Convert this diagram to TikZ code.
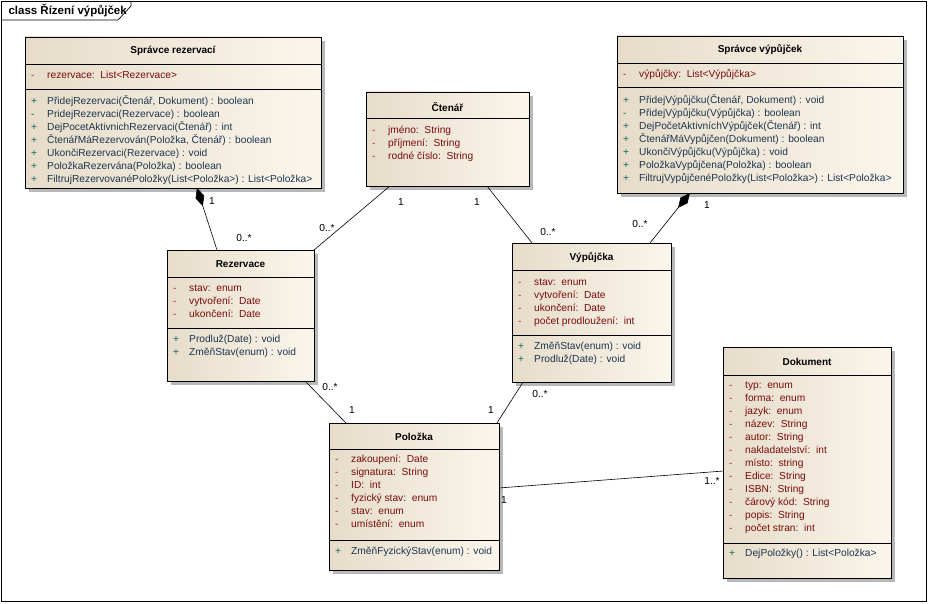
\documentclass[tikz,border=0pt]{standalone}
\usepackage{fontspec}
\setmainfont{Liberation Sans}
\usepackage{array}
\usetikzlibrary{arrows.meta,calc,shadows}
\definecolor{boxdark}{HTML}{E6DCC9}
\definecolor{boxlight}{HTML}{FBF6EC}
\definecolor{attmark}{HTML}{C8281E}
\definecolor{atttext}{HTML}{7A0C0C}
\definecolor{opmark}{HTML}{0E6A5E}
\definecolor{optext}{HTML}{1E3650}
\newcolumntype{A}{@{}>{\color{attmark}}w{l}{16pt}@{}>{\color{atttext}}l@{}}
\newcolumntype{O}{@{}>{\color{opmark}}w{l}{16pt}@{}>{\color{optext}}l@{}}
\tikzset{
  every node/.style={font=\fontsize{10.2}{13}\selectfont},
  classbox/.style={draw=black,line width=0.7pt,left color=boxdark,right color=boxlight,
    anchor=north west,inner sep=0pt,outer sep=0pt,
    drop shadow={shadow xshift=4pt,shadow yshift=-4pt,fill=black!28,opacity=1}},
  classname/.style={font=\fontsize{10}{13}\selectfont\bfseries},
  members/.style={anchor=north west,inner sep=0pt},
  mult/.style={inner sep=0pt},
  assoc/.style={line width=0.6pt}
}
\begin{document}
\begin{tikzpicture}[x=1pt,y=-1pt]
    \useasboundingbox (0,0) rectangle (928,604);
    \draw[line width=0.7pt] (1,1) rectangle (926,601);
    \draw[line width=0.7pt] (1,20) -- (118,20) -- (131,6) -- (131,1);
    \node[anchor=west,font=\fontsize{11.5}{13}\selectfont\bfseries] (frametitle) at (5,11) {class Řízení výpůjček};

    \node[classbox,minimum width=296pt,minimum height=151pt] (sprRez) at (25,37) {};
    \draw[line width=0.7pt] (25,64) -- (321,64);
    \draw[line width=0.7pt] (25,89) -- (321,89);
    \node[classname] (sprRezName) at (173,51) {Správce rezervací};
    \node[members] (sprRezAtt) at (31,69.5) {\begin{tabular}{A}
      - & rezervace:\ \ List<Rezervace>
    \end{tabular}};
    \node[members] (sprRezOp) at (31,95.5) {\begin{tabular}{O}
      + & PřidejRezervaci(Čtenář, Dokument) : boolean\\
      - & PridejRezervaci(Rezervace) : boolean\\
      + & DejPocetAktivnichRezervaci(Čtenář) : int\\
      + & ČtenářMáRezervován(Položka, Čtenář) : boolean\\
      + & UkončiRezervaci(Rezervace) : void\\
      + & PoložkaRezervána(Položka) : boolean\\
      + & FiltrujRezervovanéPoložky(List<Položka>) : List<Položka>
    \end{tabular}};

    \node[classbox,minimum width=163pt,minimum height=94pt] (ctenar) at (366,92) {};
    \draw[line width=0.7pt] (366,118) -- (529,118);
    \node[classname] (ctenarName) at (447.5,107) {Čtenář};
    \node[members] (ctenarAtt) at (372,124.5) {\begin{tabular}{A}
      - & jméno:\ \ String\\
      - & příjmení:\ \ String\\
      - & rodné číslo:\ \ String
    \end{tabular}};

    \node[classbox,minimum width=286pt,minimum height=157pt] (sprVyp) at (617,36) {};
    \draw[line width=0.7pt] (617,63) -- (903,63);
    \draw[line width=0.7pt] (617,87) -- (903,87);
    \node[classname] (sprVypName) at (760,50) {Správce výpůjček};
    \node[members] (sprVypAtt) at (623,68.5) {\begin{tabular}{A}
      - & výpůjčky:\ \ List<Výpůjčka>
    \end{tabular}};
    \node[members] (sprVypOp) at (623,94.5) {\begin{tabular}{O}
      + & PřidejVýpůjčku(Čtenář, Dokument) : void\\
      - & PřidejVýpůjčku(Výpůjčka) : boolean\\
      + & DejPočetAktivníchVýpůjček(Čtenář) : int\\
      + & ČtenářMáVypůjčen(Dokument) : boolean\\
      + & UkončiVýpůjčku(Výpůjčka) : void\\
      + & PoložkaVypůjčena(Položka) : boolean\\
      + & FiltrujVypůjčenéPoložky(List<Položka>) : List<Položka>
    \end{tabular}};

    \node[classbox,minimum width=147pt,minimum height=131pt] (rez) at (167,250) {};
    \draw[line width=0.7pt] (167,277) -- (314,277);
    \draw[line width=0.7pt] (167,328) -- (314,328);
    \node[classname] (rezName) at (240.5,264) {Rezervace};
    \node[members] (rezAtt) at (173,282.5) {\begin{tabular}{A}
      - & stav:\ \ enum\\
      - & vytvoření:\ \ Date\\
      - & ukončení:\ \ Date
    \end{tabular}};
    \node[members] (rezOp) at (173,333.5) {\begin{tabular}{O}
      + & Prodluž(Date) : void\\
      + & ZměňStav(enum) : void
    \end{tabular}};

    \node[classbox,minimum width=159pt,minimum height=139pt] (vyp) at (512,243) {};
    \draw[line width=0.7pt] (512,270) -- (671,270);
    \draw[line width=0.7pt] (512,335) -- (671,335);
    \node[classname] (vypName) at (591.5,258) {Výpůjčka};
    \node[members] (vypAtt) at (518,276.5) {\begin{tabular}{A}
      - & stav:\ \ enum\\
      - & vytvoření:\ \ Date\\
      - & ukončení:\ \ Date\\
      - & počet prodloužení:\ \ int
    \end{tabular}};
    \node[members] (vypOp) at (518,340.5) {\begin{tabular}{O}
      + & ZměňStav(enum) : void\\
      + & Prodluž(Date) : void
    \end{tabular}};

    \node[classbox,minimum width=170pt,minimum height=147pt] (polozka) at (329,423) {};
    \draw[line width=0.7pt] (329,449) -- (499,449);
    \draw[line width=0.7pt] (329,540) -- (499,540);
    \node[classname] (polozkaName) at (414,437) {Položka};
    \node[members] (polozkaAtt) at (335,453.5) {\begin{tabular}{A}
      - & zakoupení:\ \ Date\\
      - & signatura:\ \ String\\
      - & ID:\ \ int\\
      - & fyzický stav:\ \ enum\\
      - & stav:\ \ enum\\
      - & umístění:\ \ enum
    \end{tabular}};
    \node[members] (polozkaOp) at (335,545.5) {\begin{tabular}{O}
      + & ZměňFyzickýStav(enum) : void
    \end{tabular}};

    \node[classbox,minimum width=168pt,minimum height=231pt] (dokument) at (723,347) {};
    \draw[line width=0.7pt] (723,375) -- (891,375);
    \draw[line width=0.7pt] (723,543) -- (891,543);
    \node[classname] (dokumentName) at (807,362) {Dokument};
    \node[members] (dokumentAtt) at (729,379.5) {\begin{tabular}{A}
      - & typ:\ \ enum\\
      - & forma:\ \ enum\\
      - & jazyk:\ \ enum\\
      - & název:\ \ String\\
      - & autor:\ \ String\\
      - & nakladatelství:\ \ int\\
      - & místo:\ \ string\\
      - & Edice:\ \ String\\
      - & ISBN:\ \ String\\
      - & čárový kód:\ \ String\\
      - & popis:\ \ String\\
      - & počet stran:\ \ int
    \end{tabular}};
    \node[members] (dokumentOp) at (729,547.5) {\begin{tabular}{O}
      + & DejPoložky() : List<Položka>
    \end{tabular}};

    \draw[assoc,{Diamond[length=19pt,width=9pt]}-] ($(sprRez.south west)!0.581!(sprRez.south east)$) -- ($(rez.north west)!0.34!(rez.north east)$);
    \draw[assoc,{Diamond[length=19pt,width=9pt]}-] ($(sprVyp.south west)!0.255!(sprVyp.south east)$) -- ($(vyp.north west)!0.868!(vyp.north east)$);
    \draw[assoc] ($(ctenar.south west)!0.147!(ctenar.south east)$) -- (rez.north east);
    \draw[assoc] ($(ctenar.south west)!0.742!(ctenar.south east)$) -- ($(vyp.north west)!0.126!(vyp.north east)$);
    \draw[assoc] ($(rez.south west)!0.939!(rez.south east)$) -- ($(polozka.north west)!0.1!(polozka.north east)$);
    \draw[assoc] ($(vyp.south west)!0.07!(vyp.south east)$) -- ($(polozka.north west)!0.988!(polozka.north east)$);
    \draw[assoc] ($(polozka.north east)!0.442!(polozka.south east)$) -- ($(dokument.north west)!0.537!(dokument.south west)$);

    \node[mult] (m1) at (212,201) {1};
    \node[mult] (m2) at (244,238) {0..*};
    \node[mult] (m3) at (707,205) {1};
    \node[mult] (m4) at (640,224) {0..*};
    \node[mult] (m5) at (401,202) {1};
    \node[mult] (m6) at (327,228) {0..*};
    \node[mult] (m7) at (477,202) {1};
    \node[mult] (m8) at (548,232) {0..*};
    \node[mult] (m9) at (330,387) {0..*};
    \node[mult] (m10) at (352,410) {1};
    \node[mult] (m11) at (540,394) {0..*};
    \node[mult] (m12) at (491,410) {1};
    \node[mult] (m13) at (504,500) {1};
    \node[mult] (m14) at (712,481) {1..*};
\end{tikzpicture}
\end{document}
